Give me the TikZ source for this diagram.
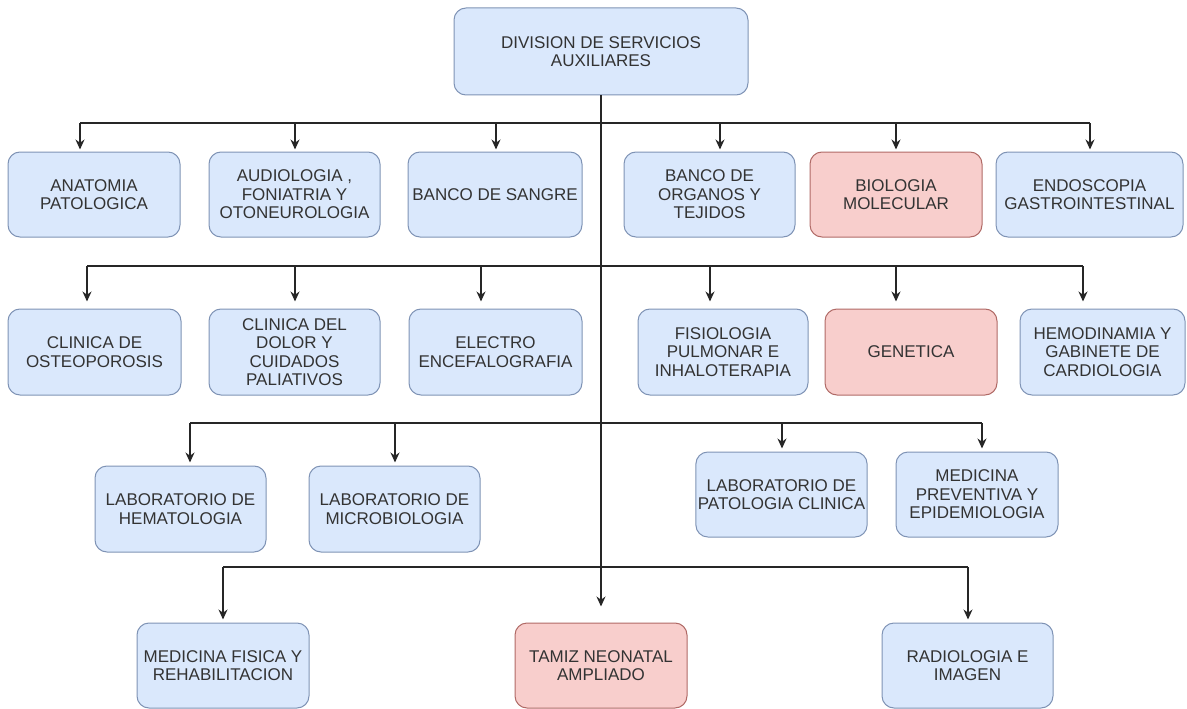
\documentclass[tikz,border=0pt]{standalone}
\usepackage{fontspec}
\setmainfont{Liberation Sans}
\usetikzlibrary{arrows.meta,calc}
\definecolor{bfill}{HTML}{DAE8FC}
\definecolor{bdraw}{HTML}{7F93B5}
\definecolor{rfill}{HTML}{F8CECC}
\definecolor{rdraw}{HTML}{B06A66}
\definecolor{txt}{HTML}{333333}
\newcommand{\dropto}[4]{\draw[arr,shorten >=#4pt] ($(#1.north |- #2)+(#3,0)$) -- ($(#1.north)+(#3,0)$);}
\begin{document}
\begin{tikzpicture}[x=1pt,y=-1pt,
  box/.style={rectangle, rounded corners=12pt, draw=bdraw, fill=bfill, line width=1pt,
    align=center, text=txt, font=\fontsize{17}{18.5}\selectfont, inner sep=2pt},
  rbox/.style={box, draw=rdraw, fill=rfill},
  line/.style={line width=1.3pt, draw=black!85},
  arr/.style={line, -{Stealth[length=10pt,width=9pt]}}]
\useasboundingbox (0,0) rectangle (1187,709);

% top
\node[box, minimum width=294pt, minimum height=87pt] (top) at (601,51.5) {DIVISION DE SERVICIOS\\AUXILIARES};

% row 1
\node[box, minimum width=172pt, minimum height=85pt] (anat) at (94,194.5) {ANATOMIA\\PATOLOGICA};
\node[box, minimum width=171pt, minimum height=85pt] (audio) at (294.5,194.5) {AUDIOLOGIA ,\\FONIATRIA Y\\OTONEUROLOGIA};
\node[box, minimum width=174pt, minimum height=85pt] (sangre) at (495,194.5) {BANCO DE SANGRE};
\node[box, minimum width=171pt, minimum height=85pt] (organos) at (709.5,194.5) {BANCO DE\\ORGANOS Y\\TEJIDOS};
\node[rbox, minimum width=172pt, minimum height=85pt] (biol) at (896,194.5) {BIOLOGIA\\MOLECULAR};
\node[box, minimum width=187pt, minimum height=85pt] (endo) at (1089.5,194.5) {ENDOSCOPIA\\GASTROINTESTINAL};

% row 2
\node[box, minimum width=173pt, minimum height=86pt] (osteo) at (94.5,352) {CLINICA DE\\OSTEOPOROSIS};
\node[box, minimum width=171pt, minimum height=86pt] (dolor) at (294.5,352) {CLINICA DEL\\DOLOR Y\\CUIDADOS\\PALIATIVOS};
\node[box, minimum width=173pt, minimum height=86pt] (electro) at (495.5,352) {ELECTRO\\ENCEFALOGRAFIA};
\node[box, minimum width=170pt, minimum height=86pt] (fisio) at (723,352) {FISIOLOGIA\\PULMONAR E\\INHALOTERAPIA};
\node[rbox, minimum width=172pt, minimum height=86pt] (genetica) at (911,352) {GENETICA};
\node[box, minimum width=165pt, minimum height=86pt] (hemo) at (1102.5,352) {HEMODINAMIA Y\\GABINETE DE\\CARDIOLOGIA};

% row 3
\node[box, minimum width=171pt, minimum height=86pt] (hema) at (180.5,509) {LABORATORIO DE\\HEMATOLOGIA};
\node[box, minimum width=171pt, minimum height=86pt] (micro) at (394.5,509) {LABORATORIO DE\\MICROBIOLOGIA};
\node[box, minimum width=171pt, minimum height=85pt] (patol) at (781.5,494.5) {LABORATORIO DE\\PATOLOGIA CLINICA};
\node[box, minimum width=162pt, minimum height=85pt] (prev) at (977,494.5) {MEDICINA\\PREVENTIVA Y\\EPIDEMIOLOGIA};

% row 4
\node[box, minimum width=172pt, minimum height=85pt] (fisica) at (223,665.5) {MEDICINA FISICA Y\\REHABILITACION};
\node[rbox, minimum width=172pt, minimum height=85pt] (tamiz) at (601,665.5) {TAMIZ NEONATAL\\AMPLIADO};
\node[box, minimum width=171pt, minimum height=85pt] (radio) at (967.5,665.5) {RADIOLOGIA E\\IMAGEN};

% bus coordinates
\coordinate (b1l) at (80,123);  \coordinate (b1r) at (1090,123);
\coordinate (b2l) at (87,266);  \coordinate (b2r) at (1083,266);
\coordinate (b3l) at (190,423); \coordinate (b3r) at (982,423);
\coordinate (b4l) at (223,567); \coordinate (b4r) at (968,567);

% trunk
\draw[arr, shorten >=16pt] (top.south) -- (tamiz.north);

% buses
\draw[line] (b1l) -- (b1r);
\draw[line] (b2l) -- (b2r);
\draw[line] (b3l) -- (b3r);
\draw[line] (b4l) -- (b4r);

% row 1 arrows
\dropto{anat}{b1l}{-14}{2}
\dropto{audio}{b1l}{0.5}{2}
\dropto{sangre}{b1l}{1}{2}
\dropto{organos}{b1l}{10.5}{2}
\dropto{biol}{b1l}{0}{2}
\dropto{endo}{b1l}{0.5}{2}

% row 2 arrows
\dropto{osteo}{b2l}{-7.5}{7}
\dropto{dolor}{b2l}{0.5}{7}
\dropto{electro}{b2l}{-14.5}{7}
\dropto{fisio}{b2l}{-13}{7}
\dropto{genetica}{b2l}{-15}{7}
\dropto{hemo}{b2l}{-19.5}{7}

% row 3 arrows
\dropto{hema}{b3l}{9.5}{3}
\dropto{micro}{b3l}{0.5}{3}
\dropto{patol}{b3l}{0.5}{3}
\dropto{prev}{b3l}{5}{3}

% row 4 arrows
\dropto{fisica}{b4l}{0}{3}
\dropto{radio}{b4l}{0.5}{3}
\end{tikzpicture}
\end{document}
